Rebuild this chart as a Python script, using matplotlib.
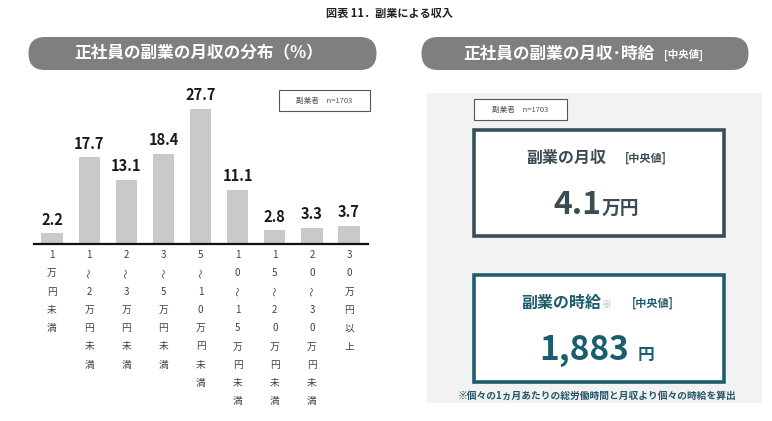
import matplotlib
matplotlib.use("Agg")
from matplotlib import pyplot as plt
from matplotlib.patches import FancyBboxPatch, Rectangle
import matplotlib.transforms as mtransforms

plt.rcParams['font.family'] = ['Noto Sans CJK JP', 'DejaVu Sans']

# data
categories = ['1万円未満', '1～2万円未満', '2～3万円未満', '3～5万円未満', '5～10万円未満',
              '10～15万円未満', '15～20万円未満', '20～30万円未満', '30万円以上']
values = [2.2, 17.7, 13.1, 18.4, 27.7, 11.1, 2.8, 3.3, 3.7]
sample_label = '副業者　n=1703'
median_monthly = '4.1'
median_hourly = '1,883'

W, H = 772, 421
fig = plt.figure(figsize=(W / 100, H / 100), dpi=100)
fig.patch.set_facecolor('white')

# background layer in pixel coords (y down)
ov = fig.add_axes([0, 0, 1, 1])
ov.set_xlim(0, W)
ov.set_ylim(H, 0)
ov.axis('off')

def pill(x0, y0, w, h, color='#7f7f7f'):
    r = h / 2
    ov.add_patch(FancyBboxPatch((x0 + r, y0), w - 2 * r, h,
                                boxstyle=f"round,pad=0,rounding_size={r}",
                                fc=color, ec='none'))

ov.text(390, 13, '図表 11．副業による収入', ha='center', va='center',
        fontsize=8, fontweight='bold', color='#222222')

pill(12, 37, 381, 33)
pill(405, 37, 360, 33)
ov.text(199, 53.5, '正社員の副業の月収の分布（%）', ha='center', va='center',
        fontsize=12, fontweight='bold', color='white')
ov.text(654, 53.5, '正社員の副業の月収･時給', ha='right', va='center',
        fontsize=12, fontweight='bold', color='white')
ov.text(664, 55, '[中央値]', ha='left', va='center',
        fontsize=7.5, fontweight='bold', color='white')

# sample box on the left
ov.add_patch(Rectangle((279, 90), 91, 21, fc='white', ec='#555555', lw=0.8))
ov.text(324.5, 100.5, sample_label, ha='center', va='center', fontsize=5.5, color='#555555')

# right panel
ov.add_patch(Rectangle((427, 93), 335, 310, fc='#f2f2f2', ec='none'))
ov.add_patch(Rectangle((474, 99), 93, 21, fc='white', ec='#555555', lw=0.8))
ov.text(520.5, 109.5, sample_label, ha='center', va='center', fontsize=5.5, color='#555555')

c1 = '#34505b'
ov.add_patch(Rectangle((474, 130), 250, 106, fc='white', ec=c1, lw=2.6))
ov.text(566, 158, '副業の月収', ha='center', va='center', fontsize=11.5,
        fontweight='bold', color='#3c4c54')
ov.text(646, 158, '[中央値]', ha='center', va='center', fontsize=8,
        fontweight='bold', color='#3c4c54')
ov.text(601, 214, median_monthly, ha='right', va='baseline', fontsize=23,
        fontweight='bold', color='#3c4c54')
ov.text(602, 214, '万円', ha='left', va='baseline', fontsize=13.5,
        fontweight='bold', color='#3c4c54')

c2 = '#1f5d6d'
ov.add_patch(Rectangle((474, 275), 250, 107, fc='white', ec=c2, lw=2.6))
ov.text(561, 303, '副業の時給', ha='center', va='center', fontsize=11.5,
        fontweight='bold', color=c2)
ov.text(602, 305, '※', ha='left', va='center', fontsize=7, color='#9aa8ad')
ov.text(653, 303, '[中央値]', ha='center', va='center', fontsize=8,
        fontweight='bold', color=c2)
ov.text(629, 360, median_hourly, ha='right', va='baseline', fontsize=24,
        fontweight='bold', color='#1a5d6e')
ov.text(638, 360, '円', ha='left', va='baseline', fontsize=12,
        fontweight='bold', color='#1a5d6e')
ov.text(597, 396, '※個々の1ヵ月あたりの総労働時間と月収より個々の時給を算出',
        ha='center', va='center', fontsize=7, fontweight='bold', color='#24566a')

# bar chart
x0, x1, ybase, ytop = 34, 368, 244, 80
ax = fig.add_axes([x0 / W, (H - ybase) / H, (x1 - x0) / W, (ybase - ytop) / H])
ax.patch.set_alpha(0)
xs = list(range(len(values)))
ax.bar(xs, values, width=0.57, color='#c9c9c9')
ax.set_xlim(-0.485, len(values) - 0.49)
ax.set_ylim(0, (ybase - ytop) / 4.89)
for s in ['top', 'right', 'left']:
    ax.spines[s].set_visible(False)
ax.spines['bottom'].set_linewidth(1.6)
ax.spines['bottom'].set_color('#111111')
ax.set_xticks([])
ax.set_yticks([])

for x, v in zip(xs, values):
    ax.annotate(f'{v:.1f}', (x, v), xytext=(0, 4), textcoords='offset points',
                ha='center', va='bottom', fontsize=10.5, fontweight='bold', color='#1a1a1a')

# vertical category labels, one character per row
tr = mtransforms.blended_transform_factory(ax.transData, ov.transData)
for x, cat in zip(xs, categories):
    for k, ch in enumerate(cat):
        rot = 90 if ch == '～' else 0
        ov.text(x, 255 + 18.3 * k, ch, transform=tr, ha='center', va='center',
                fontsize=7, color='#404040', rotation=rot)

fig.savefig('out.png', dpi=100)
